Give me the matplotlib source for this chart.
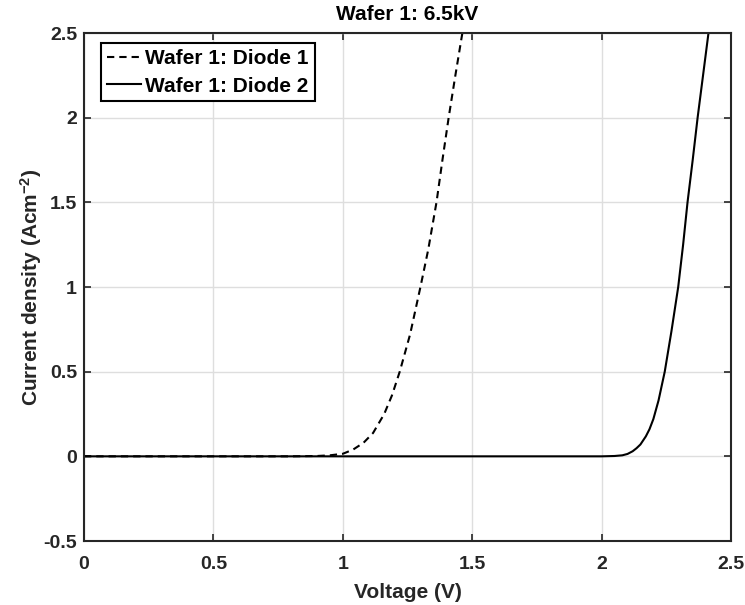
import matplotlib
matplotlib.use("Agg")
import matplotlib.pyplot as plt
from matplotlib.ticker import FuncFormatter

# Data
v_diode1 = [0.0, 0.8, 0.9, 0.95, 1.0, 1.04, 1.08, 1.117, 1.16, 1.19, 1.22, 1.26, 1.30,
            1.33, 1.362, 1.385, 1.409, 1.435, 1.462, 1.47]
j_diode1 = [0.0, 0.0, 0.002, 0.006, 0.015, 0.04, 0.08, 0.138, 0.25, 0.36, 0.5, 0.72, 1.0,
            1.22, 1.5, 1.75, 2.0, 2.25, 2.5, 2.58]

v_diode2 = [0.0, 2.0, 2.05, 2.08, 2.10, 2.12, 2.135, 2.15, 2.171, 2.185, 2.20, 2.22, 2.244,
            2.27, 2.296, 2.315, 2.332, 2.352, 2.371, 2.392, 2.413, 2.42]
j_diode2 = [0.0, 0.0, 0.002, 0.006, 0.014, 0.03, 0.048, 0.07, 0.118, 0.16, 0.22, 0.33, 0.5,
            0.74, 1.0, 1.25, 1.5, 1.75, 2.0, 2.25, 2.5, 2.58]

labels = ["Wafer 1: Diode 1", "Wafer 1: Diode 2"]
x_ticks = [0, 0.5, 1, 1.5, 2, 2.5]
y_ticks = [-0.5, 0, 0.5, 1, 1.5, 2, 2.5]
title = "Wafer 1: 6.5kV"
xlabel = "Voltage (V)"
ylabel = "Current density (Acm$^{-2}$)"

plt.rcParams['font.family'] = ['Liberation Sans', 'DejaVu Sans']
plt.rcParams['font.weight'] = 'bold'
plt.rcParams['mathtext.fontset'] = 'custom'
plt.rcParams['mathtext.rm'] = 'Liberation Sans:bold'
plt.rcParams['mathtext.it'] = 'Liberation Sans:bold'
plt.rcParams['mathtext.bf'] = 'Liberation Sans:bold'
plt.rcParams['mathtext.default'] = 'bf'

dark = '#262626'
fig = plt.figure(figsize=(7.45, 6.05), dpi=100)
ax = fig.add_axes([84 / 745, 1 - 541 / 605, (731 - 84) / 745, (541 - 33) / 605])

ax.plot(v_diode1, j_diode1, color='black', lw=1.5, ls=(0, (3.5, 2.4)), label=labels[0])
ax.plot(v_diode2, j_diode2, color='black', lw=1.5, ls='-', label=labels[1])

ax.set_xlim(0, 2.5)
ax.set_ylim(-0.5, 2.5)
ax.set_xticks(x_ticks)
ax.set_yticks(y_ticks)
fmt = FuncFormatter(lambda v, p: f"{v:g}")
ax.xaxis.set_major_formatter(fmt)
ax.yaxis.set_major_formatter(fmt)

ax.grid(True, color='#dedede', lw=1.0)
ax.set_axisbelow(True)
ax.tick_params(direction='in', length=5, width=1.2, color=dark, labelcolor=dark,
               labelsize=14, top=True, right=True)
ax.tick_params(axis='x', pad=11)
ax.tick_params(axis='y', pad=5)
for lab in ax.get_xticklabels() + ax.get_yticklabels():
    lab.set_fontweight('bold')
for s in ax.spines.values():
    s.set_linewidth(1.5)
    s.set_color(dark)

ax.set_title(title, fontsize=15, fontweight='bold', pad=9.5, color='black')
ax.set_xlabel(xlabel, fontsize=15, fontweight='bold', labelpad=7, color=dark)
ax.set_ylabel(ylabel, fontsize=15, fontweight='bold', labelpad=-0.5, color=dark)

leg = ax.legend(loc='upper left', bbox_to_anchor=(17 / 647, 1 - 10 / 508),
                prop={'weight': 'bold', 'size': 15}, fancybox=False, framealpha=1,
                edgecolor='black', handlelength=1.65, handletextpad=0.2,
                borderpad=0.28, labelspacing=0.42, borderaxespad=0)
leg.get_frame().set_linewidth(1.5)

fig.savefig("out.png", dpi=100)
